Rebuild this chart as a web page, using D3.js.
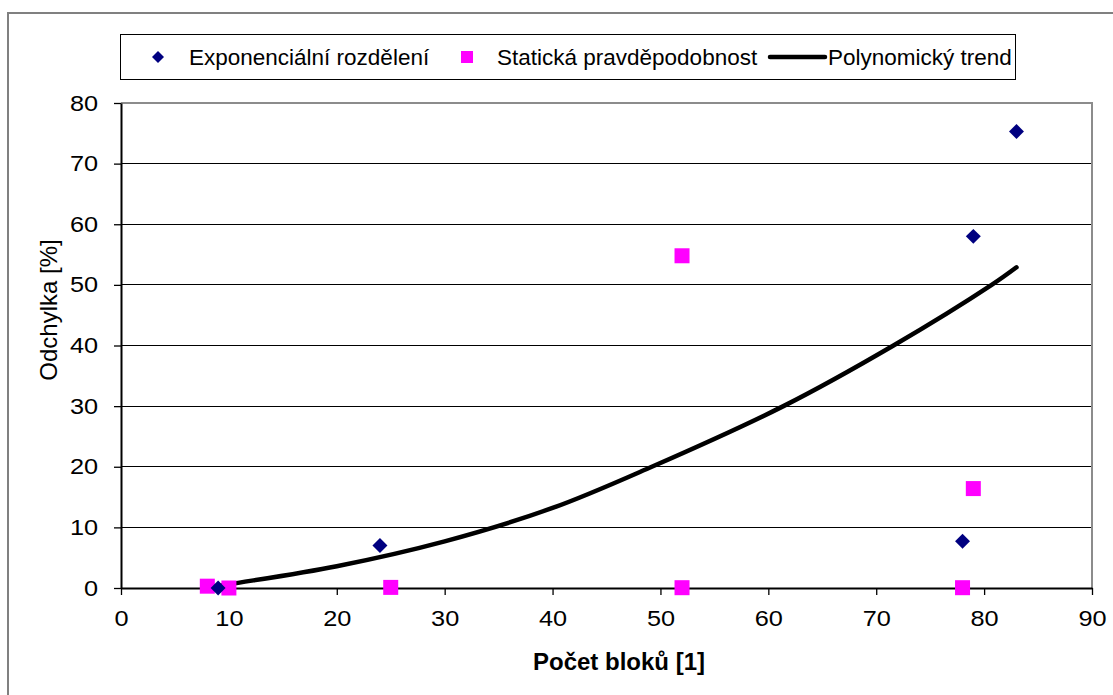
<!DOCTYPE html>
<html>
<head>
<meta charset="utf-8">
<script src="https://cdn.jsdelivr.net/npm/d3@7"></script>
<style>
  body { margin: 0; background: #fff; }
  text { font-family: "Liberation Sans", Arial, sans-serif; fill: #000; }
</style>
</head>
<body>
<div id="chart"></div>
<script>
// series
let expX = [9, 24, 78, 79, 83]
let expY = [0, 7, 7.7, 58, 75.3]

let statX = [8, 10, 25, 52, 52, 78, 79]
let statY = [0.3, 0, 0.1, 54.8, 0.05, 0.05, 16.4]

let trendX = [8, 10, 20, 30, 40, 49.2, 61.4, 71.6, 80.7, 83]
let trendY = [0, 0.6, 3.6, 7.7, 13.2, 20, 30, 40, 50, 52.9]

let xTicks = [0, 10, 20, 30, 40, 50, 60, 70, 80, 90]
let yTicks = [0, 10, 20, 30, 40, 50, 60, 70, 80]

let legendNames = ["Exponenciální rozdělení", "Statická pravděpodobnost", "Polynomický trend"]

let W = 1113, H = 695
let margin = {top: 103, right: 21, bottom: 107, left: 121},
    width = W - margin.left - margin.right,
    height = H - margin.top - margin.bottom;

let svg = d3.select("#chart")
    .append("svg")
    .attr("width", W)
    .attr("height", H)

// outer chart border (runs off the right and bottom)
svg.append("rect")
    .attr("x", 8).attr("y", 13)
    .attr("width", W + 20).attr("height", H + 20)
    .attr("fill", "#fff")
    .attr("stroke", "#808080")
    .attr("stroke-width", 2)

let g = svg.append("g")
    .attr("transform", "translate(" + margin.left + "," + margin.top + ")");

let x = d3.scaleLinear().domain([0, 90]).range([0, width])
let y = d3.scaleLinear().domain([0, 80]).range([height, 0])

// gridlines
g.selectAll(".grid")
    .data(yTicks.filter(d => d > 0 && d < 80))
    .enter().append("line")
    .attr("x1", 0).attr("x2", width)
    .attr("y1", d => y(d)).attr("y2", d => y(d))
    .attr("stroke", "#000")
    .attr("stroke-width", 1)
    .attr("shape-rendering", "crispEdges")

// plot area border: top and right in gray
g.append("path")
    .attr("d", "M0," + y(80) + "H" + width + "V" + height)
    .attr("fill", "none")
    .attr("stroke", "#8c8c8c")
    .attr("stroke-width", 2)

// axes
let xAxis = g.append("g")
    .attr("transform", "translate(0," + height + ")")
    .call(d3.axisBottom(x).tickValues(xTicks).tickSize(7).tickPadding(15).tickSizeOuter(0))
let yAxis = g.append("g")
    .call(d3.axisLeft(y).tickValues(yTicks).tickSize(7).tickPadding(16).tickSizeOuter(0))

// the original labels are a bit wider than Liberation Sans, so stretch them
let stretch = 1.15
for (let ax of [xAxis, yAxis]) {
    ax.select(".domain").attr("stroke", "#000").attr("stroke-width", 2)
    ax.selectAll(".tick line").attr("stroke", "#000").attr("stroke-width", 1.3)
    ax.selectAll(".tick text")
        .attr("font-family", "Liberation Sans, Arial, sans-serif")
        .attr("font-size", 22)
        .attr("fill", "#000")
        .attr("transform", "scale(" + stretch + ",1)")
}
yAxis.selectAll(".tick text").attr("x", -23 / stretch)

// trend line
let trend = trendX.map((d, i) => ({x: d, y: trendY[i]}))
g.append("path")
    .datum(trend)
    .attr("fill", "none")
    .attr("stroke", "#000")
    .attr("stroke-width", 4.5)
    .attr("stroke-linecap", "round")
    .attr("d", d3.line()
        .x(d => x(d.x))
        .y(d => y(d.y))
        .curve(d3.curveCatmullRom))

// static probability squares
g.selectAll(".sq")
    .data(statX.map((d, i) => ({x: d, y: statY[i]})))
    .enter().append("rect")
    .attr("x", d => x(d.x) - 7.5)
    .attr("y", d => y(d.y) - 7.5)
    .attr("width", 15).attr("height", 15)
    .attr("fill", "#ff00ff")

// exponential distribution diamonds
g.selectAll(".dm")
    .data(expX.map((d, i) => ({x: d, y: expY[i]})))
    .enter().append("path")
    .attr("transform", d => "translate(" + x(d.x) + "," + y(d.y) + ") rotate(45)")
    .attr("d", d3.symbol().type(d3.symbolSquare).size(112))
    .attr("fill", "#000080")

// axis titles
svg.append("text")
    .attr("transform", "translate(57,310) rotate(-90)")
    .attr("text-anchor", "middle")
    .attr("font-size", 24)
    .text("Odchylka [%]")

svg.append("text")
    .attr("x", 619).attr("y", 670)
    .attr("text-anchor", "middle")
    .attr("font-size", 24)
    .attr("font-weight", "bold")
    .text("Počet bloků [1]")

// legend
let legend = svg.append("g")
legend.append("rect")
    .attr("x", 120.5).attr("y", 34.5)
    .attr("width", 895).attr("height", 45)
    .attr("fill", "#fff")
    .attr("stroke", "#000")
    .attr("stroke-width", 1)

legend.append("path")
    .attr("transform", "translate(158,57) rotate(45)")
    .attr("d", d3.symbol().type(d3.symbolSquare).size(72))
    .attr("fill", "#000080")
legend.append("rect")
    .attr("x", 461).attr("y", 51)
    .attr("width", 12).attr("height", 12)
    .attr("fill", "#ff00ff")
legend.append("line")
    .attr("x1", 770).attr("x2", 825)
    .attr("y1", 57).attr("y2", 57)
    .attr("stroke", "#000")
    .attr("stroke-width", 4.5)
    .attr("stroke-linecap", "round")

let legendX = [189, 497, 828]
legend.selectAll(".lt")
    .data(legendNames)
    .enter().append("text")
    .attr("x", (d, i) => legendX[i])
    .attr("y", 65)
    .attr("font-size", 22.5)
    .text(d => d)
</script>
</body>
</html>
